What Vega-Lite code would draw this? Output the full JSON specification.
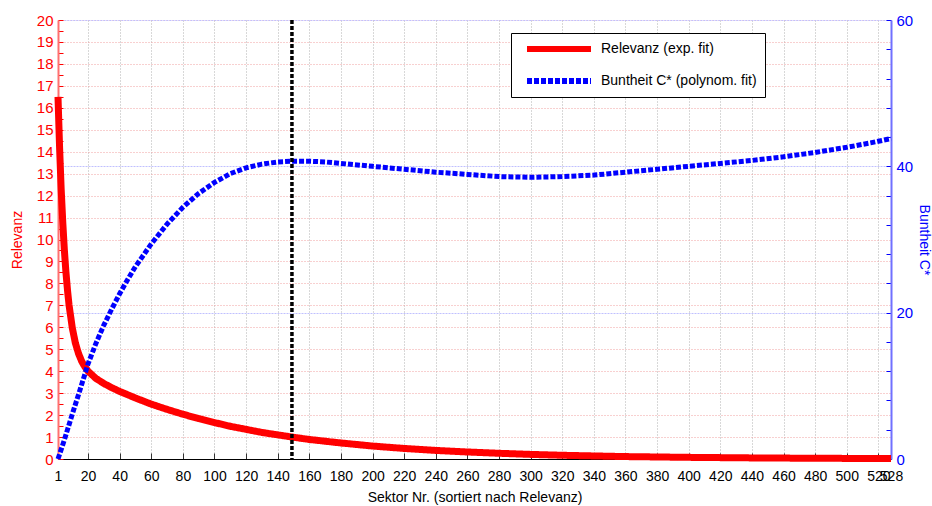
{
  "$schema": "https://vega.github.io/schema/vega-lite/v6.json",
  "width": 833,
  "height": 439,
  "autosize": {"type": "none"},
  "padding": {"left": 58, "top": 20, "right": 41, "bottom": 47},
  "background": "white",
  "config": {
    "view": {"stroke": null},
    "font": "Liberation Sans",
    "legend": {
      "orient": "none",
      "legendX": 453,
      "legendY": 13,
      "padding": 8,
      "symbolOffset": 5,
      "strokeColor": "black",
      "fillColor": "white",
      "symbolType": "stroke",
      "symbolSize": 4096,
      "symbolStrokeWidth": 6,
      "clipHeight": 16,
      "rowPadding": 16,
      "labelOffset": 7,
      "labelFontSize": 14,
      "labelColor": "black",
      "labelLimit": 500
    }
  },
  "datasets": {
    "rel": [
      {"x": 1, "v": 16.5, "s": "Relevanz (exp. fit)"},
      {"x": 2, "v": 14.2, "s": "Relevanz (exp. fit)"},
      {"x": 3, "v": 12.3, "s": "Relevanz (exp. fit)"},
      {"x": 4, "v": 10.8, "s": "Relevanz (exp. fit)"},
      {"x": 5, "v": 9.55, "s": "Relevanz (exp. fit)"},
      {"x": 6, "v": 8.53, "s": "Relevanz (exp. fit)"},
      {"x": 7, "v": 7.7, "s": "Relevanz (exp. fit)"},
      {"x": 8, "v": 7.01, "s": "Relevanz (exp. fit)"},
      {"x": 10, "v": 5.99, "s": "Relevanz (exp. fit)"},
      {"x": 12, "v": 5.28, "s": "Relevanz (exp. fit)"},
      {"x": 14, "v": 4.8, "s": "Relevanz (exp. fit)"},
      {"x": 16, "v": 4.45, "s": "Relevanz (exp. fit)"},
      {"x": 18, "v": 4.2, "s": "Relevanz (exp. fit)"},
      {"x": 20, "v": 4.0, "s": "Relevanz (exp. fit)"},
      {"x": 25, "v": 3.67, "s": "Relevanz (exp. fit)"},
      {"x": 30, "v": 3.44, "s": "Relevanz (exp. fit)"},
      {"x": 35, "v": 3.25, "s": "Relevanz (exp. fit)"},
      {"x": 40, "v": 3.08, "s": "Relevanz (exp. fit)"},
      {"x": 50, "v": 2.78, "s": "Relevanz (exp. fit)"},
      {"x": 60, "v": 2.5, "s": "Relevanz (exp. fit)"},
      {"x": 70, "v": 2.26, "s": "Relevanz (exp. fit)"},
      {"x": 80, "v": 2.04, "s": "Relevanz (exp. fit)"},
      {"x": 90, "v": 1.84, "s": "Relevanz (exp. fit)"},
      {"x": 100, "v": 1.66, "s": "Relevanz (exp. fit)"},
      {"x": 110, "v": 1.49, "s": "Relevanz (exp. fit)"},
      {"x": 120, "v": 1.35, "s": "Relevanz (exp. fit)"},
      {"x": 130, "v": 1.21, "s": "Relevanz (exp. fit)"},
      {"x": 140, "v": 1.1, "s": "Relevanz (exp. fit)"},
      {"x": 150, "v": 0.99, "s": "Relevanz (exp. fit)"},
      {"x": 160, "v": 0.89, "s": "Relevanz (exp. fit)"},
      {"x": 180, "v": 0.73, "s": "Relevanz (exp. fit)"},
      {"x": 200, "v": 0.59, "s": "Relevanz (exp. fit)"},
      {"x": 220, "v": 0.48, "s": "Relevanz (exp. fit)"},
      {"x": 240, "v": 0.39, "s": "Relevanz (exp. fit)"},
      {"x": 260, "v": 0.32, "s": "Relevanz (exp. fit)"},
      {"x": 280, "v": 0.26, "s": "Relevanz (exp. fit)"},
      {"x": 300, "v": 0.21, "s": "Relevanz (exp. fit)"},
      {"x": 320, "v": 0.17, "s": "Relevanz (exp. fit)"},
      {"x": 340, "v": 0.14, "s": "Relevanz (exp. fit)"},
      {"x": 360, "v": 0.11, "s": "Relevanz (exp. fit)"},
      {"x": 380, "v": 0.093, "s": "Relevanz (exp. fit)"},
      {"x": 400, "v": 0.075, "s": "Relevanz (exp. fit)"},
      {"x": 440, "v": 0.05, "s": "Relevanz (exp. fit)"},
      {"x": 480, "v": 0.033, "s": "Relevanz (exp. fit)"},
      {"x": 528, "v": 0.02, "s": "Relevanz (exp. fit)"}
    ],
    "bunt": [
      {"x": 1, "v": 0, "s": "Buntheit C* (polynom. fit)"},
      {"x": 5, "v": 2.6, "s": "Buntheit C* (polynom. fit)"},
      {"x": 10, "v": 6.1, "s": "Buntheit C* (polynom. fit)"},
      {"x": 15, "v": 9.5, "s": "Buntheit C* (polynom. fit)"},
      {"x": 20, "v": 13.0, "s": "Buntheit C* (polynom. fit)"},
      {"x": 25, "v": 15.8, "s": "Buntheit C* (polynom. fit)"},
      {"x": 30, "v": 18.3, "s": "Buntheit C* (polynom. fit)"},
      {"x": 35, "v": 20.5, "s": "Buntheit C* (polynom. fit)"},
      {"x": 40, "v": 22.6, "s": "Buntheit C* (polynom. fit)"},
      {"x": 45, "v": 24.5, "s": "Buntheit C* (polynom. fit)"},
      {"x": 50, "v": 26.3, "s": "Buntheit C* (polynom. fit)"},
      {"x": 60, "v": 29.4, "s": "Buntheit C* (polynom. fit)"},
      {"x": 70, "v": 32.1, "s": "Buntheit C* (polynom. fit)"},
      {"x": 80, "v": 34.4, "s": "Buntheit C* (polynom. fit)"},
      {"x": 90, "v": 36.3, "s": "Buntheit C* (polynom. fit)"},
      {"x": 100, "v": 37.8, "s": "Buntheit C* (polynom. fit)"},
      {"x": 110, "v": 39.0, "s": "Buntheit C* (polynom. fit)"},
      {"x": 120, "v": 39.8, "s": "Buntheit C* (polynom. fit)"},
      {"x": 130, "v": 40.3, "s": "Buntheit C* (polynom. fit)"},
      {"x": 140, "v": 40.6, "s": "Buntheit C* (polynom. fit)"},
      {"x": 150, "v": 40.7, "s": "Buntheit C* (polynom. fit)"},
      {"x": 160, "v": 40.7, "s": "Buntheit C* (polynom. fit)"},
      {"x": 170, "v": 40.6, "s": "Buntheit C* (polynom. fit)"},
      {"x": 180, "v": 40.4, "s": "Buntheit C* (polynom. fit)"},
      {"x": 200, "v": 40.0, "s": "Buntheit C* (polynom. fit)"},
      {"x": 220, "v": 39.6, "s": "Buntheit C* (polynom. fit)"},
      {"x": 240, "v": 39.2, "s": "Buntheit C* (polynom. fit)"},
      {"x": 260, "v": 38.9, "s": "Buntheit C* (polynom. fit)"},
      {"x": 280, "v": 38.6, "s": "Buntheit C* (polynom. fit)"},
      {"x": 300, "v": 38.5, "s": "Buntheit C* (polynom. fit)"},
      {"x": 320, "v": 38.6, "s": "Buntheit C* (polynom. fit)"},
      {"x": 340, "v": 38.8, "s": "Buntheit C* (polynom. fit)"},
      {"x": 360, "v": 39.2, "s": "Buntheit C* (polynom. fit)"},
      {"x": 380, "v": 39.6, "s": "Buntheit C* (polynom. fit)"},
      {"x": 400, "v": 40.0, "s": "Buntheit C* (polynom. fit)"},
      {"x": 420, "v": 40.4, "s": "Buntheit C* (polynom. fit)"},
      {"x": 440, "v": 40.8, "s": "Buntheit C* (polynom. fit)"},
      {"x": 460, "v": 41.3, "s": "Buntheit C* (polynom. fit)"},
      {"x": 480, "v": 41.9, "s": "Buntheit C* (polynom. fit)"},
      {"x": 500, "v": 42.6, "s": "Buntheit C* (polynom. fit)"},
      {"x": 515, "v": 43.2, "s": "Buntheit C* (polynom. fit)"},
      {"x": 528, "v": 43.8, "s": "Buntheit C* (polynom. fit)"}
    ],
    "marker": [{"x": 149}]
  },
  "encoding": {
    "x": {
      "field": "x", "type": "quantitative",
      "scale": {"domain": [1, 528], "nice": false, "zero": false},
      "axis": {
        "title": "Sektor Nr. (sortiert nach Relevanz)",
        "values": [1, 20, 40, 60, 80, 100, 120, 140, 160, 180, 200, 220, 240, 260, 280, 300, 320, 340, 360, 380, 400, 420, 440, 460, 480, 500, 520, 528],
        "labelOverlap": false,
        "labelFlush": false,
        "labelFontSize": 14,
        "labelColor": "black",
        "labelPadding": 16,
        "tickSize": -6,
        "tickColor": "#333333",
        "domainColor": "black",
        "domainWidth": 1,
        "grid": true,
        "gridColor": "#b0b0b0",
        "gridDash": [1, 2],
        "gridWidth": 1,
        "titleFontSize": 14,
        "titleFontWeight": "normal",
        "titleColor": "black",
        "titlePadding": 7
      }
    }
  },
  "layer": [
    {
      "data": {"name": "rel"},
      "mark": {"type": "line", "strokeWidth": 7, "strokeCap": "butt", "strokeJoin": "round"},
      "encoding": {
        "y": {
          "field": "v", "type": "quantitative",
          "scale": {"domain": [0, 20], "nice": false},
          "axis": {
            "title": "Relevanz",
            "values": [0, 0.5, 1, 1.5, 2, 2.5, 3, 3.5, 4, 4.5, 5, 5.5, 6, 6.5, 7, 7.5, 8, 8.5, 9, 9.5, 10, 10.5, 11, 11.5, 12, 12.5, 13, 13.5, 14, 14.5, 15, 15.5, 16, 16.5, 17, 17.5, 18, 18.5, 19, 19.5, 20],
            "labelExpr": "datum.value % 1 === 0 ? format(datum.value, 'd') : ''",
            "labelOverlap": false,
            "labelFlush": false,
            "labelFontSize": 15,
            "labelColor": "#ff0000",
            "labelPadding": 10,
            "tickColor": "#ff0000",
            "tickSize": -5,
            "domainColor": "#ff7070",
            "domainWidth": 2,
            "grid": true,
            "gridColor": "#f0a0a0",
            "gridDash": [1, 2],
            "gridOpacity": {"condition": {"test": "datum.value % 1 !== 0", "value": 0}, "value": 1},
            "titleFontSize": 14,
            "titleFontWeight": "normal",
            "titleColor": "#ff0000",
            "titlePadding": 12
          }
        },
        "color": {
          "field": "s", "type": "nominal", "title": null,
          "scale": {"domain": ["Relevanz (exp. fit)", "Buntheit C* (polynom. fit)"], "range": ["#ff0000", "#0000ff"]}
        },
        "strokeDash": {
          "field": "s", "type": "nominal", "title": null,
          "scale": {"domain": ["Relevanz (exp. fit)", "Buntheit C* (polynom. fit)"], "range": [[1, 0], [5, 2]]}
        }
      }
    },
    {
      "data": {"name": "bunt"},
      "mark": {"type": "line", "strokeWidth": 5, "strokeCap": "butt"},
      "encoding": {
        "y": {
          "field": "v", "type": "quantitative",
          "scale": {"domain": [0, 60], "nice": false},
          "axis": {
            "orient": "right",
            "title": "Buntheit C*",
            "values": [0, 4, 8, 12, 16, 20, 24, 28, 32, 36, 40, 44, 48, 52, 56, 60],
            "labelExpr": "datum.value % 20 === 0 ? format(datum.value, 'd') : ''",
            "labelOverlap": false,
            "labelFlush": false,
            "labelFontSize": 15,
            "labelColor": "#0000ff",
            "labelPadding": 10,
            "tickColor": "#0000ff",
            "tickSize": -5,
            "domainColor": "#7070ff",
            "domainWidth": 2,
            "grid": true,
            "gridColor": "#c0c0ff",
            "gridDash": [2, 1],
            "gridOpacity": {"condition": {"test": "datum.value % 20 !== 0", "value": 0}, "value": 1},
            "titleFontSize": 14,
            "titleFontWeight": "normal",
            "titleColor": "#0000ff",
            "titlePadding": 4
          }
        },
        "color": {"field": "s", "type": "nominal", "title": null},
        "strokeDash": {"field": "s", "type": "nominal", "title": null}
      }
    },
    {
      "data": {"name": "marker"},
      "mark": {"type": "rule", "color": "black", "strokeWidth": 3.5, "strokeDash": [4, 2]}
    }
  ],
  "resolve": {"scale": {"y": "independent"}}
}
